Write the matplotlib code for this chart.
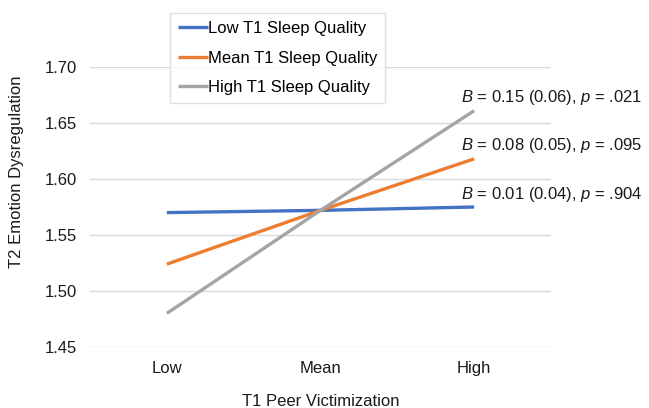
import matplotlib
matplotlib.use("Agg")
import matplotlib.pyplot as plt

plt.rcParams["font.family"] = ["Liberation Sans", "DejaVu Sans"]
plt.rcParams["mathtext.fontset"] = "custom"
plt.rcParams["mathtext.rm"] = "Liberation Sans"
plt.rcParams["mathtext.it"] = "Liberation Sans:italic"

# data
categories = ["Low", "Mean", "High"]
series_names = ["Low T1 Sleep Quality", "Mean T1 Sleep Quality", "High T1 Sleep Quality"]
low_sq = [1.570, 1.572, 1.575]
mean_sq = [1.524, 1.572, 1.618]
high_sq = [1.480, 1.572, 1.661]
slope_labels = [
    r"$\mathit{B}$ = 0.01 (0.04), $\mathit{p}$ = .904",
    r"$\mathit{B}$ = 0.08 (0.05), $\mathit{p}$ = .095",
    r"$\mathit{B}$ = 0.15 (0.06), $\mathit{p}$ = .021",
]
colors = ["#4472C4", "#ED7D31", "#A5A5A5"]
y_ticks = [1.45, 1.50, 1.55, 1.60, 1.65, 1.70]

fig = plt.figure(figsize=(6.49, 4.08), dpi=100)
ax = fig.add_axes([90 / 649, 61 / 408, 461 / 649, 280 / 408])

x = list(range(len(categories)))
for vals, name, c, lab in zip([low_sq, mean_sq, high_sq], series_names, colors, slope_labels):
    ax.plot(x, vals, color=c, lw=2.4, label=name, solid_capstyle="butt", zorder=3)
    ax.annotate(lab, xy=(x[-1], vals[-1]), xytext=(-13, 13), textcoords="offset pixels",
                ha="left", va="center", fontsize=12, color="#1a1a1a", annotation_clip=False)

ax.set_xlim(-0.5, 2.5)
ax.set_ylim(1.45, 1.70)
ax.set_yticks(y_ticks)
ax.set_yticklabels([f"{v:.2f}" for v in y_ticks])
ax.set_xticks(x)
ax.set_xticklabels(categories)
ax.tick_params(length=0, labelsize=12, colors="#1a1a1a", pad=10)
ax.tick_params(axis="y", pad=9.5)
ax.yaxis.grid(True, color="#d9d9d9", lw=1)
ax.set_axisbelow(True)
for s in ax.spines.values():
    s.set_visible(False)

ax.set_xlabel("T1 Peer Victimization", fontsize=12, color="#1a1a1a", labelpad=13)
ax.set_ylabel("T2 Emotion Dysregulation", fontsize=12, color="#1a1a1a")
ax.yaxis.set_label_coords((24 - 90) / 461, (347 - 172) / 280)

leg = ax.legend(loc="upper left", bbox_to_anchor=(170 / 649, 1 - 13 / 408),
                bbox_transform=fig.transFigure, fontsize=12, frameon=True, fancybox=False,
                handlelength=1.75, handletextpad=0.0, labelspacing=0.85, borderpad=0.5,
                borderaxespad=0)
leg.get_frame().set_edgecolor("#d9d9d9")
leg.get_frame().set_linewidth(1)

fig.savefig("out.png", dpi=100)
